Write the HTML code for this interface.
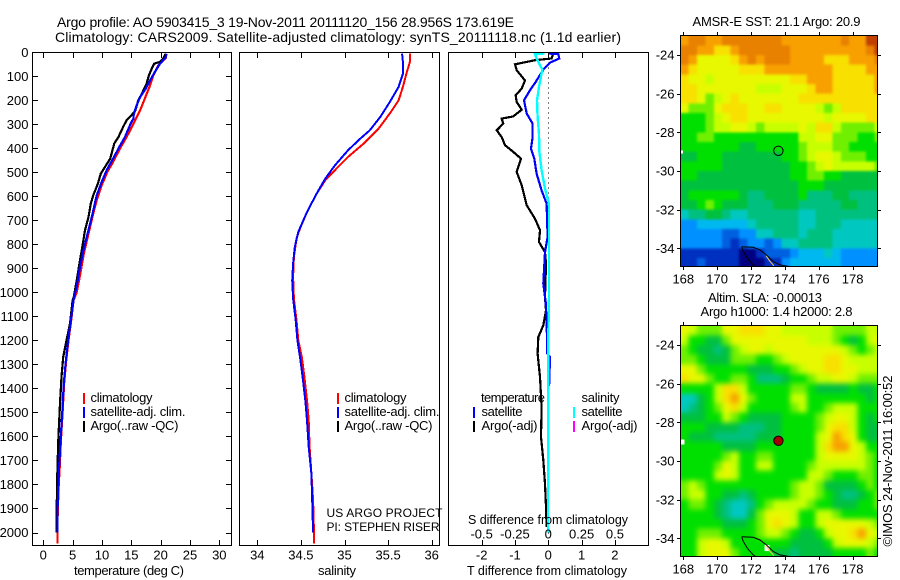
<!DOCTYPE html>
<html lang="en">
<head>
<meta charset="utf-8">
<title>Argo profile</title>
<style>
html,body{margin:0;padding:0;background:#fff;width:900px;height:580px;overflow:hidden}
svg{display:block}
text{font-family:"Liberation Sans",sans-serif;font-size:13px;fill:#000}
.crisp{shape-rendering:crispEdges}
</style>
</head>
<body>
<svg id="chart" width="900" height="580" viewBox="0 0 900 580" xmlns="http://www.w3.org/2000/svg">
<defs>
<clipPath id="clip-sst"><rect x="681" y="36" width="196" height="230"/></clipPath>
<clipPath id="clip-sla"><rect x="681" y="326" width="196" height="230"/></clipPath>
<clipPath id="clip-temp"><rect x="33" y="52" width="198" height="493"/></clipPath>
<clipPath id="clip-sal"><rect x="240" y="52" width="199" height="493"/></clipPath>
<clipPath id="clip-diff"><rect x="449" y="52" width="199" height="493"/></clipPath>
<filter id="soften-sst" x="-5%" y="-5%" width="110%" height="110%" color-interpolation-filters="sRGB">
<feGaussianBlur in="SourceGraphic" stdDeviation="1.2" result="soft"/>
<feMerge><feMergeNode in="SourceGraphic"/><feMergeNode in="soft"/></feMerge>
</filter>
<filter id="soften-sla" x="-5%" y="-5%" width="110%" height="110%" color-interpolation-filters="sRGB">
<feGaussianBlur in="SourceGraphic" stdDeviation="2.6" result="soft"/>
<feMerge><feMergeNode in="SourceGraphic"/><feMergeNode in="soft"/></feMerge>
</filter>
</defs>
<text style="font-size:14px" x="57" y="27" textLength="457" lengthAdjust="spacing">Argo profile: AO 5903415_3 19-Nov-2011 20111120_156 28.956S 173.619E</text>
<text style="font-size:14px" x="55" y="42" textLength="566" lengthAdjust="spacing">Climatology: CARS2009. Satellite-adjusted climatology: synTS_20111118.nc (1.1d earlier)</text>
<g id="layer-marks"></g>
<g id="layer-frames"></g>

<text x="74" y="575" textLength="110" lengthAdjust="spacing">temperature (deg C)</text>
<text x="318" y="575" textLength="38" lengthAdjust="spacing">salinity</text>
<text style="font-size:12.5px" x="467" y="575" textLength="160" lengthAdjust="spacing">T difference from climatology</text>
<text style="font-size:12.5px" x="468" y="524" textLength="160" lengthAdjust="spacing">S difference from climatology</text>

<g>
<rect class="crisp" x="83" y="393" width="2" height="11" fill="#f00"/>
<rect class="crisp" x="83" y="407" width="2" height="11" fill="#00f"/>
<rect class="crisp" x="83" y="421" width="2" height="11" fill="#000"/>
<text x="90.5" y="402" textLength="62" lengthAdjust="spacing">climatology</text>
<text x="90.5" y="416" textLength="95" lengthAdjust="spacing">satellite-adj. clim.</text>
<text x="90.5" y="430" textLength="88" lengthAdjust="spacing">Argo(..raw -QC)</text>
</g>
<g>
<rect class="crisp" x="337" y="393" width="2" height="11" fill="#f00"/>
<rect class="crisp" x="337" y="407" width="2" height="11" fill="#00f"/>
<rect class="crisp" x="337" y="421" width="2" height="11" fill="#000"/>
<text x="344.5" y="402" textLength="62" lengthAdjust="spacing">climatology</text>
<text x="344.5" y="416" textLength="95" lengthAdjust="spacing">satellite-adj. clim.</text>
<text x="344.5" y="430" textLength="88" lengthAdjust="spacing">Argo(..raw -QC)</text>
</g>
<text style="font-size:12px" x="326.5" y="517" textLength="116" lengthAdjust="spacing">US ARGO PROJECT</text>
<text style="font-size:12px" x="326.5" y="531" textLength="113" lengthAdjust="spacing">PI: STEPHEN RISER</text>
<g>
<text x="481" y="402" textLength="64" lengthAdjust="spacing">temperature</text>
<text x="581.5" y="402" textLength="38" lengthAdjust="spacing">salinity</text>
<rect class="crisp" x="473" y="407" width="2" height="11" fill="#00f"/>
<rect class="crisp" x="473" y="421" width="2" height="11" fill="#000"/>
<rect class="crisp" x="573" y="407" width="2" height="11" fill="#0ff"/>
<rect class="crisp" x="573" y="421" width="2" height="11" fill="#f0f"/>
<text x="481.5" y="416" textLength="41" lengthAdjust="spacing">satellite</text>
<text x="481.5" y="430" textLength="56" lengthAdjust="spacing">Argo(-adj)</text>
<text x="581.5" y="416" textLength="41" lengthAdjust="spacing">satellite</text>
<text x="581.5" y="430" textLength="56" lengthAdjust="spacing">Argo(-adj)</text>
</g>

<text x="692.5" y="26" textLength="168" lengthAdjust="spacing">AMSR-E SST: 21.1 Argo: 20.9</text>
<text x="708" y="302" textLength="114" lengthAdjust="spacing">Altim. SLA: -0.00013</text>
<text x="700.5" y="316" textLength="152" lengthAdjust="spacing">Argo h1000: 1.4 h2000: 2.8</text>
<text transform="translate(892 546.5) rotate(-90)" textLength="171" lengthAdjust="spacing">©IMOS 24-Nov-2011 16:00:52</text>
</svg>

<script>
// ----- profile data: depth (m) and value pairs -----
const depthTicks = [0,100,200,300,400,500,600,700,800,900,1000,1100,1200,1300,1400,1500,1600,1700,1800,1900,2000];
const tempTicks = [0,5,10,15,20,25,30];
const salTicks = [34,34.5,35,35.5,36];
const tDiffTicks = [-2,-1,0,1,2];
const sDiffTicks = [-0.5,-0.25,0,0.25,0.5];
const sDiffLabels = ["-0.5","-0.25","0","0.25","0.5"];

const tempClimDepth = [6,22,54,96,137,193,242,297,353,401,457,498,554,616,672,755,839,929,1000,1033,1116,1199,1283,1380,1491,1616,1727,1810,1921,2000,2045];
const tempClim = [20.85,20.9,19.6,18.75,18.2,17.3,16.5,15.35,14.2,13.05,11.9,10.9,9.95,9.1,8.5,7.7,6.9,6.25,5.7,5.15,4.75,4.3,3.9,3.55,3.3,3.0,2.8,2.6,2.45,2.4,2.4];
const tempArgoDepth = [6,26,40,47,68,96,130,172,200,242,262,283,311,353,380,443,478,505,547,596,630,686,741,804,866,936,1019,1033,1130,1206,1269,1352,1463,1616,1741,1921,2000];
const tempArgo = [20.85,20.45,19.9,18.9,18.5,18.0,17.6,16.8,16.2,15.7,15.05,14.2,13.6,12.8,12.1,11.4,10.5,9.8,9.3,8.5,8.1,7.7,7.1,6.7,6.25,5.8,5.2,5.0,4.55,3.9,3.4,3.1,2.85,2.55,2.4,2.27,2.27];
const tempSatDepth = [6,22,47,82,117,158,186,228,262,276,297,353,401,443,491,540,596,672,741,818,894,977,1026,1116,1199,1283,1380,1491,1616,1727,1810,1921,2000];
const tempSat = [21.0,20.85,19.9,19.0,18.2,17.3,16.5,15.8,15.4,15.35,14.9,13.9,12.8,11.9,10.8,9.95,9.1,8.4,7.7,6.9,6.25,5.7,5.2,4.7,4.25,3.85,3.5,3.25,2.95,2.7,2.55,2.4,2.4];

const salClimDepth = [6,40,89,144,200,255,318,380,436,491,533,589,665,734,776,852,936,1026,1116,1199,1269,1352,1449,1533,1644,1755,1866,2000,2045];
const salClim = [35.75,35.75,35.71,35.67,35.62,35.52,35.39,35.22,35.04,34.89,34.78,34.68,34.57,34.49,34.45,34.42,34.41,34.42,34.45,34.47,34.51,34.54,34.57,34.59,34.60,34.62,34.64,34.65,34.65];
const salSatDepth = [6,40,89,144,207,269,325,360,408,471,526,589,665,748,811,880,950,1026,1116,1199,1269,1352,1449,1533,1644,1755,1866,2000];
const salSat = [35.66,35.67,35.67,35.62,35.52,35.41,35.29,35.18,35.04,34.89,34.78,34.68,34.57,34.47,34.43,34.41,34.40,34.41,34.44,34.46,34.49,34.52,34.55,34.57,34.59,34.62,34.63,34.64];

const diffArgoDepth = [6,26,33,50,75,117,151,179,207,239,267,276,297,325,353,387,415,443,498,554,637,693,741,790,832,880,1019,1075,1137,1186,1255,1352,1477,1602,1699,1797,1894,1977];
const diffArgoT = [0.15,0.1,-0.4,-1.0,-0.95,-0.7,-0.8,-0.98,-0.95,-0.8,-1.05,-1.4,-1.35,-1.55,-1.4,-1.3,-1.05,-0.82,-0.95,-0.8,-0.65,-0.4,-0.25,-0.28,-0.1,-0.07,-0.1,-0.07,-0.15,-0.3,-0.32,-0.25,-0.2,-0.22,-0.15,-0.1,-0.07,-0.05];
const diffSatDepth = [5,8,26,43,72,124,158,200,255,297,353,401,443,505,575,630,769,832,963,1019,1033,1116,1255,1269,1324,1380,1394,1977,2000];
const diffSatT = [0.0,0.3,0.33,0.05,-0.15,-0.38,-0.55,-0.73,-0.65,-0.47,-0.47,-0.52,-0.42,-0.35,-0.2,-0.05,-0.02,-0.1,-0.15,-0.1,-0.08,-0.05,-0.03,0.05,0.04,0.03,0,-0.01,0.02];
const diffSalDepth = [5,8,26,72,144,200,269,339,408,491,568,630,1019,1186,1977,2000];
const diffSatS = [-0.03,-0.1,-0.088,-0.045,-0.07,-0.085,-0.08,-0.07,-0.068,-0.05,-0.025,0.005,0.005,0,-0.002,0];

// ----- map data: colour-scale level of each half-degree cell (north to south) -----
const mapLonTicks = [168,170,172,174,176,178];
const mapLatTicks = [-24,-26,-28,-30,-32,-34];
const coastWestLon = [171.45,171.55,171.79,172.13,172.33];
const coastWestLat = [-33.92,-34.17,-34.52,-34.86,-34.98];
const coastEastLon = [171.45,172.13,172.53,172.92,173.32,173.71,174.3];
const coastEastLat = [-33.92,-33.95,-34.09,-34.35,-34.69,-34.86,-34.95];
const beachLon = [172.9,173.1,173.35];
const beachLat = [-34.4,-34.65,-34.9];
const levelColours = ["#000080","#0030c0","#0060e0","#0090ff","#00b8f0","#00c8c0","#00c080","#00c040","#00e000","#70f000","#c8ff00","#e8f800","#f8e000","#f8a000","#e88000","#c04000"];

const sstLevels = [
[13,14,14,13,13,14,14,14,14,14,14,14,13,13,13,13,13,13,13,14,13,13,15,15],
[14,14,13,13,12,12,13,14,14,14,14,14,14,13,13,13,13,13,13,13,13,13,14,15],
[14,13,11,11,11,11,12,13,14,13,14,14,14,13,13,13,13,12,12,12,13,13,13,14],
[13,12,11,11,11,11,11,12,12,12,13,13,13,13,13,13,13,13,12,12,12,12,13,13],
[12,11,11,10,11,11,11,11,11,11,11,11,11,12,12,13,13,13,12,12,12,12,12,13],
[12,12,11,11,11,11,11,11,11,10,10,10,11,11,11,12,13,13,12,12,12,12,12,13],
[12,12,11,9,10,11,12,11,11,11,11,11,11,11,12,12,12,12,12,12,12,12,12,12],
[11,9,9,9,11,12,12,12,11,11,12,12,11,11,11,11,10,9,10,12,12,12,12,12],
[8,8,8,9,10,11,12,12,11,11,11,11,11,11,11,11,11,10,11,11,11,11,12,12],
[8,8,8,9,10,10,11,11,10,9,10,10,10,10,11,10,12,12,10,9,9,9,9,10],
[8,8,9,9,8,8,8,8,8,8,8,8,8,8,10,10,11,11,9,9,9,8,8,9],
[8,8,8,8,8,8,8,7,7,8,8,8,8,8,9,10,10,10,9,9,8,8,8,8],
[7,7,8,8,8,7,7,7,7,7,7,7,8,8,9,10,11,11,10,9,9,9,8,8],
[8,8,8,8,8,7,7,7,7,7,7,7,7,8,8,9,10,11,10,10,10,10,10,9],
[8,8,7,7,7,7,7,7,7,7,7,7,7,8,8,9,9,8,8,7,7,7,7,7],
[7,7,7,7,7,7,7,7,7,7,7,7,7,7,8,8,8,7,7,7,7,7,7,7],
[7,8,8,8,8,8,8,7,6,6,7,7,7,7,8,6,6,6,7,7,6,6,6,6],
[7,7,8,9,8,7,7,7,6,6,6,7,7,7,6,6,6,6,6,7,7,6,6,6],
[5,6,6,7,7,6,5,5,6,6,6,6,6,6,5,5,6,6,6,6,6,6,6,6],
[3,3,4,4,4,4,4,4,5,6,6,6,6,6,5,5,6,6,6,5,5,5,5,5],
[3,3,3,3,3,2,2,3,3,5,5,6,6,6,5,6,6,6,5,5,5,5,5,5],
[3,3,3,3,3,2,1,2,3,3,2,3,5,5,6,6,6,6,5,5,5,5,5,5],
[1,1,1,1,1,1,1,0,0,1,2,2,2,3,4,4,4,5,4,3,3,3,3,3],
[1,1,2,1,1,1,1,0,0,0,1,1,3,4,4,4,4,4,4,3,3,3,3,3]
];

const slaLevels = [
[11,10,9,9,9,11,11,12,12,12,11,11,10,10,10,10,10,10,9,9,9,9,10,10],
[10,8,8,7,7,9,11,11,11,11,11,11,11,11,11,10,10,10,9,8,7,8,10,11],
[9,8,7,7,6,7,9,10,11,11,10,11,11,11,11,11,11,11,11,10,9,8,9,10],
[9,9,8,7,7,7,9,9,9,8,8,9,10,11,11,11,11,12,12,11,10,10,10,10],
[11,11,9,8,8,8,8,8,7,7,7,8,8,9,10,11,11,12,12,11,11,10,10,10],
[12,11,11,9,8,8,9,9,8,6,6,6,7,8,8,9,10,10,11,11,10,9,9,9],
[8,8,8,8,10,12,12,10,8,8,8,8,8,9,9,8,7,7,7,7,8,7,7,8],
[5,5,7,8,10,12,13,11,9,8,8,8,8,10,10,8,8,8,8,8,8,8,7,8],
[5,6,7,8,9,11,12,10,8,8,8,8,8,9,10,8,8,9,10,10,10,8,8,8],
[7,7,7,8,8,10,9,8,7,7,7,7,8,8,8,8,9,10,11,11,10,8,7,8],
[8,8,8,7,7,7,7,6,6,6,7,7,8,8,8,8,9,11,12,12,10,8,7,7],
[8,7,7,7,6,6,6,6,6,7,7,7,8,8,8,8,10,11,13,12,11,8,7,7],
[8,8,8,8,8,7,7,7,7,8,8,8,8,8,8,8,10,12,13,13,11,10,8,8],
[8,8,8,8,8,9,10,8,8,9,9,8,8,8,8,8,10,11,11,11,11,10,9,8],
[8,8,8,8,9,11,10,8,8,10,10,8,8,8,8,9,10,10,10,10,10,10,9,8],
[8,8,8,8,10,11,10,8,8,8,8,8,8,8,8,10,10,9,8,8,8,9,9,8],
[9,10,9,8,8,8,8,8,8,8,8,8,8,9,10,10,9,7,7,7,7,8,9,8],
[9,10,10,8,8,7,7,6,7,8,8,8,8,9,10,10,9,8,7,6,6,7,8,9],
[8,9,9,8,7,6,5,5,6,8,9,10,10,10,10,9,8,8,7,7,7,8,8,9],
[8,8,8,8,7,6,5,5,7,9,11,11,11,10,8,8,10,10,9,8,8,8,8,8],
[8,8,8,8,8,7,7,7,8,9,11,12,11,10,8,8,10,11,11,11,11,11,10,9],
[8,8,9,9,9,8,8,8,8,9,10,10,9,8,7,7,8,10,11,11,12,13,11,10],
[8,8,10,11,11,10,8,8,8,8,8,8,8,7,7,7,7,8,10,11,11,11,10,9],
[8,8,10,11,11,11,9,8,8,8,8,7,7,6,7,7,7,7,8,8,8,8,9,8]
];

const floatLon = 173.619;
const floatLat = -28.956;
const islandLon = 167.93;
const islandLat = -29.03;
const gridFirstLon = 167.8;
const gridFirstLat = -23;
const gridStep = 0.5;

// ----- axis functions -----
const SVGNS = "http://www.w3.org/2000/svg";
const marks = document.getElementById("layer-marks");
const frames = document.getElementById("layer-frames");
const yDepth = d => 52.3 + d * 0.2401;
const xTemp = t => 43.3 + t * 5.867;
const xSal = s => 257.3 + (s - 34) * 87.2;
const xTDiff = t => 548.3 + t * 33.3;
const xSDiff = s => 548.3 + s * 133.3;
const xLon = lon => 683.3 + (lon - 168) * 16.93;
const ySst = lat => 55 + (-24 - lat) * 19.33;
const ySla = lat => 345 + (-24 - lat) * 19.33;

function svgEl(tag, parent) {
  const el = document.createElementNS(SVGNS, tag);
  parent.appendChild(el);
  return el;
}
function addLine(parent, name, x1, y1, x2, y2) {
  const el = svgEl("line", parent);
  
  
  el.setAttribute("x1", x1); el.setAttribute("y1", y1);
  el.setAttribute("x2", x2); el.setAttribute("y2", y2);
  el.setAttribute("stroke", "#000");
  el.setAttribute("class", "crisp");
  return el;
}
function addLabel(parent, name, x, y, str, anchor) {
  const el = svgEl("text", parent);
  
  
  el.setAttribute("x", x); el.setAttribute("y", y);
  el.setAttribute("text-anchor", anchor);
  el.textContent = str;
  return el;
}
function addProfile(name, clip, xs, ys, xFn, colour, width) {
  const el = svgEl("polyline", marks);
  
  
  el.setAttribute("points", xs.map((v, i) => xFn(v).toFixed(1) + "," + yDepth(ys[i]).toFixed(1)).join(" "));
  el.setAttribute("fill", "none");
  el.setAttribute("stroke", colour);
  el.setAttribute("stroke-width", width);
  el.setAttribute("class", "crisp");
  el.setAttribute("clip-path", "url(#" + clip + ")");
  return el;
}
function addFrame(name, x, y, w, h) {
  const el = svgEl("rect", frames);
  
  
  el.setAttribute("x", x); el.setAttribute("y", y);
  el.setAttribute("width", w); el.setAttribute("height", h);
  el.setAttribute("fill", "none");
  el.setAttribute("stroke", "#000");
  el.setAttribute("class", "crisp");
}
function addPanelTicks(xTicks, xFn, labels) {
  xTicks.forEach((t, i) => {
    const x = Math.round(xFn(t)) + 0.5;
    addLine(frames, "x-tick-top", x, 52.5, x, 58);
    addLine(frames, "x-tick-bottom", x, 545.5, x, 540);
    addLabel(frames, "x-tick-label", xFn(t), 559.5, labels[i], "middle");
  });
}

// ----- panel 1: temperature -----
addProfile("temperature-climatology-line", "clip-temp", tempClim, tempClimDepth, xTemp, "#f00", 2.2);
addProfile("temperature-argo-line", "clip-temp", tempArgo, tempArgoDepth, xTemp, "#000", 2.2);
addProfile("temperature-satellite-line", "clip-temp", tempSat, tempSatDepth, xTemp, "#00f", 2.2);
addFrame("temperature-plot-frame", 32.5, 52.5, 199, 493);
addPanelTicks(tempTicks, xTemp, tempTicks.map(String));
depthTicks.forEach(d => {
  const y = Math.round(yDepth(d)) + 0.5;
  if (d > 0) {
    addLine(frames, "depth-tick-left", 32.5, y, 38, y);
    addLine(frames, "depth-tick-right", 231.5, y, 226, y);
  }
  addLabel(frames, "depth-tick-label", 28.5, yDepth(d) + 4.7, String(d), "end");
});

// ----- panel 2: salinity -----
addProfile("salinity-climatology-line", "clip-sal", salClim, salClimDepth, xSal, "#f00", 2);
addProfile("salinity-satellite-line", "clip-sal", salSat, salSatDepth, xSal, "#00f", 2);
addFrame("salinity-plot-frame", 239.5, 52.5, 200, 493);
addPanelTicks(salTicks, xSal, salTicks.map(String));

// ----- panel 3: differences -----
const zeroLine = addLine(marks, "zero-difference-line", xTDiff(0), yDepth(0), xTDiff(0), 545);
zeroLine.setAttribute("stroke-dasharray", "1 4");
addProfile("t-difference-argo-line", "clip-diff", diffArgoT, diffArgoDepth, xTDiff, "#000", 2.2);
addProfile("t-difference-satellite-line", "clip-diff", diffSatT, diffSatDepth, xTDiff, "#00f", 2.2);
addProfile("s-difference-satellite-line", "clip-diff", diffSatS, diffSalDepth, xSDiff, "#0ff", 2.4);
addFrame("difference-plot-frame", 448.5, 52.5, 200, 493);
addPanelTicks(tDiffTicks, xTDiff, tDiffTicks.map(String));
sDiffTicks.forEach((s, i) => {
  addLabel(frames, "s-difference-tick-label", xSDiff(s), 538.5, sDiffLabels[i], "middle");
});

// ----- maps -----
function drawMap(name, levels, yFn, clip, filterId) {
  const group = svgEl("g", marks);
  
  
  group.setAttribute("clip-path", "url(#" + clip + ")");
  const cells = svgEl("g", group);
  
  
  cells.setAttribute("filter", "url(#" + filterId + ")");
  levels.forEach((row, r) => {
    row.forEach((level, c) => {
      const lon = gridFirstLon + c * gridStep;
      const lat = gridFirstLat - r * gridStep;
      const cell = svgEl("rect", cells);
      
      
      cell.setAttribute("x", xLon(lon).toFixed(2));
      cell.setAttribute("y", yFn(lat).toFixed(2));
      cell.setAttribute("width", (xLon(lon + gridStep) - xLon(lon)).toFixed(2));
      cell.setAttribute("height", (yFn(lat - gridStep) - yFn(lat)).toFixed(2));
      cell.setAttribute("fill", levelColours[level]);
      cell.setAttribute("class", "crisp");
    });
  });
  return group;
}
function drawCoast(group, lons, lats, yFn, colour, name) {
  const el = svgEl("polyline", group);
  
  
  el.setAttribute("points", lons.map((v, i) => xLon(v).toFixed(1) + "," + yFn(lats[i]).toFixed(1)).join(" "));
  el.setAttribute("fill", "none");
  el.setAttribute("stroke", colour);
  el.setAttribute("stroke-width", 1);
}
function drawIsland(group, yFn, w, h) {
  const el = svgEl("rect", group);
  
  
  el.setAttribute("x", xLon(islandLon) - w / 2);
  el.setAttribute("y", yFn(islandLat) - h / 2);
  el.setAttribute("width", w);
  el.setAttribute("height", h);
  el.setAttribute("fill", "#fff");
  el.setAttribute("class", "crisp");
}
function drawMapAxes(prefix, yFn, top, bottom, labelY) {
  addFrame(prefix + "-map-frame", 680.5, top + 0.5, 197, bottom - top);
  mapLonTicks.forEach(lon => {
    const x = Math.round(xLon(lon)) + 0.5;
    addLine(frames, prefix + "-lon-tick-top", x, top, x, top - 3);
    addLine(frames, prefix + "-lon-tick-bottom", x, bottom + 1, x, bottom + 4);
    addLabel(frames, prefix + "-lon-label", xLon(lon), labelY, String(lon), "middle");
  });
  mapLatTicks.forEach(lat => {
    const y = Math.round(yFn(lat)) + 0.5;
    addLine(frames, prefix + "-lat-tick-left", 680, y, 677, y);
    addLine(frames, prefix + "-lat-tick-right", 878, y, 881, y);
    addLabel(frames, prefix + "-lat-label", 674.5, yFn(lat) + 4.7, String(lat), "end");
  });
}
function drawFloat(group, yFn, fill, name) {
  const marker = svgEl("circle", group);
  
  
  marker.setAttribute("cx", xLon(floatLon).toFixed(1));
  marker.setAttribute("cy", yFn(floatLat).toFixed(1));
  marker.setAttribute("r", 4.7);
  marker.setAttribute("fill", fill);
  marker.setAttribute("stroke", "#000");
  marker.setAttribute("stroke-width", 1);
}

const sstGroup = drawMap("sst-map", sstLevels, ySst, "clip-sst", "soften-sst");
drawIsland(sstGroup, ySst, 2, 3);
drawCoast(sstGroup, coastWestLon, coastWestLat, ySst, "#000", "coastline-west");
drawCoast(sstGroup, coastEastLon, coastEastLat, ySst, "#000", "coastline-east");
drawCoast(sstGroup, beachLon, beachLat, ySst, "#ffc060", "coast-land-patch");
drawFloat(sstGroup, ySst, "none", "float-position-marker");
drawMapAxes("sst", ySst, 35, 266, 283.5);

const slaGroup = drawMap("sla-map", slaLevels, ySla, "clip-sla", "soften-sla");
drawIsland(slaGroup, ySla, 5, 5);
const slaPatch = svgEl("rect", slaGroup);


slaPatch.setAttribute("x", xLon(172.8));
slaPatch.setAttribute("y", ySla(-34.35));
slaPatch.setAttribute("width", 5);
slaPatch.setAttribute("height", 6);
slaPatch.setAttribute("fill", "#fff");
drawCoast(slaGroup, coastWestLon, coastWestLat, ySla, "#000", "coastline-west");
drawCoast(slaGroup, coastEastLon, coastEastLat, ySla, "#000", "coastline-east");
drawCoast(slaGroup, beachLon, beachLat, ySla, "#ffc060", "coast-land-patch");
drawFloat(slaGroup, ySla, "#a80000", "float-position-marker");
drawMapAxes("sla", ySla, 325, 556, 573.5);
</script>
</body>
</html>
